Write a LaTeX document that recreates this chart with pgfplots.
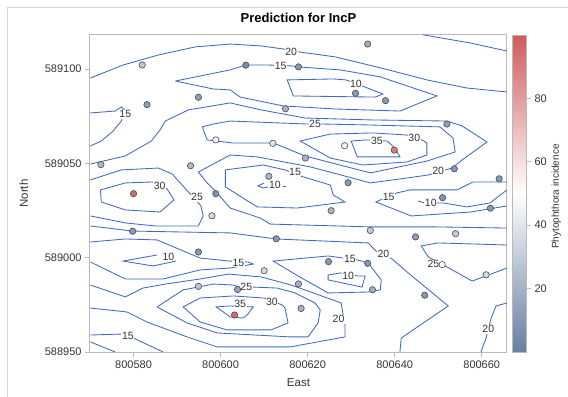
\documentclass[border=0pt]{standalone}
\usepackage{fontspec}
\setmainfont{Liberation Sans}
\usepackage{pgfplots}
\pgfplotsset{compat=1.18}
\definecolor{cline}{RGB}{66,104,196}
\definecolor{tickc}{RGB}{51,51,51}
\definecolor{framec}{RGB}{185,185,185}
\tikzset{lab/.style={font=\fontsize{10.5bp}{12bp}\selectfont, text=tickc, fill=white, inner sep=0.6bp}}
\pgfplotsset{cl/.style={draw=cline, line width=0.85bp, no marks}}
\begin{document}
\begin{tikzpicture}
\useasboundingbox (0,0) rectangle (568bp,397bp);
\draw[black!16, line width=0.8bp] (7bp,0) -- (7bp,390bp) -- (568bp,390bp);
\begin{axis}[
 at={(90bp,45bp)}, anchor=south west,
 width=417bp, height=317bp, scale only axis,
 xmin=800570, xmax=800665.8, ymin=588950, ymax=589118,
 xtick={800580,800600,800620,800640,800660},
 xticklabels={800580,800600,800620,800640,800660},
 ytick={588950,589000,589050,589100},
 yticklabels={588950,589000,589050,589100},
 scaled x ticks=false, scaled y ticks=false,
 tick align=outside, major tick length=5bp,
 xtick pos=bottom, ytick pos=left,
 axis line style={framec, line width=1bp},
 every tick/.style={framec, line width=0.8bp},
 tick label style={font=\fontsize{11bp}{13bp}\selectfont, text=tickc},
 xlabel={East}, ylabel={North},
 label style={font=\fontsize{11.5bp}{13bp}\selectfont, text=tickc},
 xlabel style={at={(axis description cs:0.5,-0.1104)}, anchor=base},
 ylabel style={at={(axis description cs:-0.149,0.5)}, anchor=base},
 title={Prediction for IncP},
 title style={at={(axis description cs:0.5,1.022)}, anchor=base, font=\fontsize{13bp}{15bp}\selectfont\bfseries, text=black},
 colormap={sas}{rgb255(0cm)=(102,127,162); rgb255(1cm)=(255,255,255); rgb255(2cm)=(208,91,91)},
 point meta min=0, point meta max=100,
 colorbar,
 colorbar style={
   at={(1.0132,1)}, anchor=north west,
   width=13.5bp, height=317bp, scale only axis,
   ytick={20,40,60,80}, yticklabels={20,40,60,80},
   ytick pos=right, yticklabel pos=right,
   tick align=outside, major tick length=5bp,
   axis line style={framec, line width=0.8bp},
   every tick/.style={framec, line width=0.8bp},
   tick label style={font=\fontsize{11bp}{13bp}\selectfont, text=tickc},
   ylabel={Phytophthora incidence},
   ylabel style={at={(axis description cs:3.44,0.49)}, anchor=base, font=\fontsize{10bp}{12bp}\selectfont, text=tickc},
 },
]
% ---- contour lines ----
\addplot[cl] coordinates {(800570.1,589095.2) (800577.6,589102.1) (800585.7,589107.4) (800594.2,589111.7) (800602.2,589113.2) (800609.3,589112.2) (800614.4,589110.6) (800618.1,589109.0) (800626.3,589106.4) (800636.9,589100.5) (800647.4,589094.2) (800656.6,589089.9) (800665.8,589087.8)};
\addplot[cl] coordinates {(800646.5,589118.1) (800657.3,589113.8) (800665.8,589109.5)};
\addplot[cl] coordinates {(800589.6,589093.6) (800602.2,589099.5) (800605.9,589102.1) (800610.9,589102.1) (800616.4,589101.6) (800617.8,589101.1) (800627.5,589099.5) (800636.7,589095.8) (800649.7,589085.7) (800641.2,589077.7) (800626.3,589078.8) (800614.4,589080.4) (800604.5,589085.1) (800602.2,589088.9) (800598.3,589089.4) (800589.6,589093.6)};
\addplot[cl] coordinates {(800628.8,589094.2) (800625.9,589094.7) (800615.3,589094.2) (800616.7,589085.7) (800635.5,589085.1) (800637.3,589086.7) (800633.2,589090.4) (800628.8,589094.2)};
\addplot[cl] coordinates {(800570.1,589076.7) (800575.8,589077.7) (800577.2,589079.9) (800577.9,589078.3) (800577.6,589075.1) (800577.2,589072.4) (800575.3,589067.1) (800572.6,589061.8) (800570.1,589059.2)};
\addplot[cl] coordinates {(800570.1,589049.6) (800578.1,589053.9) (800584.1,589061.8) (800586.1,589067.7) (800587.3,589072.4) (800592.6,589078.3) (800602.2,589082.0) (800609.3,589078.3) (800619.4,589074.0) (800634.4,589073.0) (800652.0,589072.4) (800655.5,589069.8) (800661.2,589061.3) (800655.5,589051.8) (800653.2,589047.5) (800647.7,589043.8) (800642.8,589042.2) (800634.4,589039.6) (800625.9,589044.9) (800620.6,589048.1) (800608.4,589053.4) (800602.2,589054.4) (800594.9,589045.4) (800596.9,589039.6) (800599.2,589034.3) (800602.2,589026.3) (800609.1,589021.0) (800611.4,589017.8) (800634.4,589016.3) (800649.3,589016.3) (800665.8,589015.7)};
\addplot[cl] coordinates {(800587.7,589036.4) (800589.3,589030.6) (800586.1,589024.2) (800578.1,589025.3) (800572.6,589029.5) (800572.4,589035.9) (800578.1,589039.6) (800584.3,589040.1) (800587.7,589036.4)};
\addplot[cl] coordinates {(800570.1,589041.2) (800577.2,589046.5) (800585.7,589047.5) (800588.9,589044.3) (800592.6,589034.8) (800595.5,589027.4) (800596.0,589022.1) (800594.9,589016.8) (800585.0,589016.8) (800578.1,589018.4) (800570.1,589022.1)};
\addplot[cl] coordinates {(800642.8,589065.0) (800635.0,589066.1) (800625.2,589065.5) (800618.3,589061.8) (800625.2,589052.8) (800632.7,589049.1) (800642.8,589050.7) (800647.4,589054.4) (800647.4,589060.8) (800646.3,589062.4) (800642.8,589065.0)};
\addplot[cl] coordinates {(800633.4,589062.4) (800630.0,589061.8) (800631.4,589053.4) (800641.2,589053.4) (800640.1,589058.1) (800638.3,589061.8) (800633.4,589062.4)};
\addplot[cl] coordinates {(800620.1,589070.8) (800602.2,589072.4) (800598.3,589070.8) (800595.8,589069.3) (800596.9,589062.4) (800602.7,589060.8) (800612.1,589060.8) (800619.4,589053.9) (800634.4,589044.9) (800647.4,589051.2) (800653.9,589056.0) (800653.4,589063.4) (800650.4,589069.3) (800634.4,589070.3) (800623.8,589070.8) (800620.1,589070.8)};
\addplot[cl] coordinates {(800601.1,589046.5) (800609.8,589049.1) (800614.8,589046.5) (800619.0,589042.8) (800625.2,589038.5) (800625.9,589033.2) (800628.6,589029.5) (800617.6,589026.3) (800608.4,589026.9) (800601.1,589037.5) (800601.1,589046.5)};
\addplot[cl] coordinates {(800610.0,589039.6) (800608.6,589038.0) (800609.8,589036.9) (800610.9,589037.5)};
\addplot[cl] coordinates {(800614.4,589038.0) (800615.1,589038.0)};
\addplot[cl] coordinates {(800665.8,589040.1) (800658.0,589040.1) (800654.3,589035.9) (800643.5,589035.9) (800640.5,589034.3) (800636.7,589030.6) (800635.7,589029.5) (800643.8,589022.1) (800657.5,589024.2) (800665.8,589027.4)};
\addplot[cl] coordinates {(800645.4,589030.0) (800646.8,589029.0) (800651.1,589029.0) (800656.6,589026.9) (800661.9,589029.0) (800665.8,589035.9)};
\addplot[cl] coordinates {(800570.1,589016.8) (800579.7,589014.1) (800602.2,589013.1) (800612.8,589009.9) (800633.9,589007.8) (800635.7,589003.5) (800639.4,588999.3) (800643.1,588991.9) (800652.3,588974.4) (800641.5,588957.4) (800641.2,588950.0)};
\addplot[cl] coordinates {(800570.1,589008.3) (800578.1,589009.9) (800585.4,589009.4) (800595.3,588999.8) (800602.0,588998.2) (800606.3,588997.7) (800607.5,588996.6) (800602.2,588994.5) (800595.3,588993.5) (800586.8,588988.7) (800578.1,588988.7) (800570.1,588997.7)};
\addplot[cl] coordinates {(800585.4,589001.4) (800577.6,588998.2) (800584.5,588995.6) (800589.8,588998.2)};
\addplot[cl] coordinates {(800570.1,588985.5) (800578.1,588979.2) (800582.2,588983.9) (800587.3,588986.0) (800595.3,588988.7) (800601.8,588991.3) (800609.3,588989.8) (800616.2,588985.5) (800627.7,588976.0) (800628.2,588969.1) (800628.6,588963.8) (800628.6,588958.0) (800616.0,588952.7) (800599.2,588952.7) (800592.3,588958.0) (800583.1,588965.9) (800578.5,588971.2) (800570.1,588973.3)};
\addplot[cl] coordinates {(800585.4,588973.9) (800591.4,588982.9) (800598.3,588986.0) (800602.9,588985.5) (800604.5,588984.4) (800607.5,588984.4) (800613.0,588983.9) (800617.1,588981.3) (800621.7,588976.0) (800622.9,588972.3) (800622.4,588965.4) (800620.1,588958.0) (800616.0,588958.0) (800599.2,588960.1) (800592.3,588965.4) (800585.4,588973.9)};
\addplot[cl] coordinates {(800614.2,588974.9) (800614.8,588973.3) (800615.5,588965.4) (800611.6,588961.7) (800601.5,588961.7) (800595.3,588965.9) (800591.4,588973.9) (800595.3,588978.6) (800602.9,588979.7) (800610.0,588978.6) (800614.2,588974.9)};
\addplot[cl] coordinates {(800602.0,588974.4) (800599.0,588973.9) (800602.2,588968.6) (800605.2,588968.0) (800606.3,588970.1) (800607.5,588973.9) (800602.0,588974.4)};
\addplot[cl] coordinates {(800570.1,588959.0) (800577.0,588959.5) (800578.7,588958.6) (800580.9,588956.4) (800586.8,588950.0)};
\addplot[cl] coordinates {(800570.1,588955.3) (800575.8,588950.0)};
\addplot[cl] coordinates {(800628.2,588999.8) (800624.7,589000.9) (800612.1,588998.2) (800617.8,588990.3) (800624.7,588981.3) (800633.9,588981.8) (800636.7,588982.9) (800636.9,588988.2) (800633.9,588997.2) (800631.4,588998.8) (800628.2,588999.8)};
\addplot[cl] coordinates {(800627.5,588991.9) (800624.7,588990.8) (800624.7,588988.2) (800632.5,588984.4) (800633.2,588990.3) (800631.6,588990.3) (800627.5,588991.9)};
\addplot[cl] coordinates {(800665.8,588976.0) (800663.3,588974.4) (800662.1,588967.5) (800661.0,588957.4) (800659.8,588950.0)};
\addplot[cl] coordinates {(800665.8,589006.7) (800650.0,589007.8) (800646.1,589006.2) (800647.7,589000.4) (800652.0,588995.1) (800657.8,588987.6) (800665.8,588994.5)};
% ---- contour labels ----
\node[lab] at (axis cs:800616.2,589109.3) {20};
\node[lab] at (axis cs:800613.8,589101.8) {15};
\node[lab] at (axis cs:800631.1,589092.0) {10};
\node[lab] at (axis cs:800578.1,589076.0) {15};
\node[lab] at (axis cs:800621.7,589070.7) {25};
\node[lab] at (axis cs:800635.9,589062.0) {35};
\node[lab] at (axis cs:800644.5,589063.3) {30};
\node[lab] at (axis cs:800586.0,589038.1) {30};
\node[lab] at (axis cs:800617.1,589045.2) {15};
\node[lab] at (axis cs:800612.5,589038.7) {10};
\node[lab] at (axis cs:800650.0,589045.9) {20};
\node[lab] at (axis cs:800594.6,589032.0) {25};
\node[lab] at (axis cs:800638.6,589032.0) {15};
\node[lab] at (axis cs:800648.3,589028.8) {10};
\node[lab] at (axis cs:800588.0,589000.5) {10};
\node[lab] at (axis cs:800604.1,588997.3) {15};
\node[lab] at (axis cs:800605.9,588984.6) {25};
\node[lab] at (axis cs:800637.4,589001.8) {20};
\node[lab] at (axis cs:800629.7,588999.3) {15};
\node[lab] at (axis cs:800629.3,588990.5) {10};
\node[lab] at (axis cs:800648.9,588996.5) {25};
\node[lab] at (axis cs:800604.5,588975.3) {35};
\node[lab] at (axis cs:800611.8,588976.3) {30};
\node[lab] at (axis cs:800627.1,588967.3) {20};
\node[lab] at (axis cs:800578.7,588958.6) {15};
\node[lab] at (axis cs:800661.5,588962.0) {20};
% ---- observations ----
\addplot[scatter, only marks, mark=*, mark size=3.2bp, scatter src=explicit,
  scatter/use mapped color={draw=black!70, fill=mapped color}, line width=0.6bp]
  table[x=x, y=y, meta=v] {
x y v
800582.0 589102.1 28
800583.1 589081.1 12
800594.9 589085.0 12
800598.9 589062.4 55
800572.5 589049.3 22
800593.1 589048.7 22
800598.9 589033.9 8
800580.0 589033.9 95
800598.0 589022.2 35
800579.8 589014.0 10
800594.9 589003.0 10
800594.9 588984.8 28
800603.9 588983.1 15
800603.2 588969.6 95
800610.0 588993.1 35
800612.8 589010.0 10
800605.8 589102.0 5
800617.9 589101.1 10
800633.8 589113.2 18
800631.0 589087.1 10
800614.9 589078.9 20
800637.9 589083.2 10
800652.0 589070.8 12
800612.0 589060.6 40
800628.5 589059.3 45
800639.9 589057.0 90
800619.5 589052.8 20
800611.1 589043.1 22
800629.3 589039.7 10
800653.7 589047.1 10
800664.0 589041.8 10
800651.0 589031.8 8
800662.0 589026.2 10
800625.4 589024.9 22
800634.4 589014.4 30
800644.8 589011.0 12
800654.0 589012.7 30
800624.8 588997.9 10
800633.8 588997.0 10
800650.9 588996.3 50
800661.0 588990.9 35
800617.9 588986.1 20
800634.9 588983.0 18
800646.9 588980.1 10
800618.5 588973.1 20
};
\end{axis}
\end{tikzpicture}
\end{document}
